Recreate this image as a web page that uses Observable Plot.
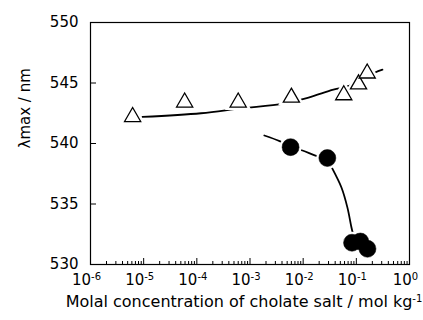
<!DOCTYPE html>
<html><head><meta charset="utf-8">
<script src="https://cdn.jsdelivr.net/npm/d3@7"></script>
<script src="https://cdn.jsdelivr.net/npm/@observablehq/plot@0.6"></script>
<style>body{margin:0;background:#fff}</style>
</head><body><div id="chart"></div>
<script>
// Open triangles
const triX = [6.2e-6, 5.9e-5, 6.0e-4, 6.0e-3, 0.058, 0.11, 0.16];
const triY = [542.2, 543.4, 543.4, 543.8, 544.0, 544.9, 545.8];
// Filled circles
const cirX = [5.8e-3, 0.0285, 0.083, 0.119, 0.162];
const cirY = [539.7, 538.8, 531.8, 531.9, 531.3];
// Fitted curves
const fitTriX = [9.5e-6, 1.2e-4, 6.6e-4, 4.3e-3, 0.0126, 0.037, 0.078, 0.22, 0.31];
const fitTriY = [542.2, 542.5, 542.9, 543.3, 543.8, 544.45, 544.8, 545.85, 546.1];
const fitCirX = [1.86e-3, 3.7e-3, 5.8e-3, 9.7e-3, 0.017, 0.0285, 0.033, 0.0525, 0.068, 0.081, 0.088];
const fitCirY = [540.66, 540.17, 539.7, 539.42, 539.0, 538.7, 538.18, 536.36, 534.7, 533.06, 532.4];
// Axes
const xTickExp = [-6, -5, -4, -3, -2, -1, 0];
const xMinorMult = [2, 3, 4, 5, 6, 7, 8, 9];
const yTicks = [530, 535, 540, 545, 550];
const xTitle = "Molal concentration of cholate salt / mol kg";
const xTitleExp = "-1";
const yTitle = "λmax / nm";

const W = 423, H = 320, mL = 90, mR = 14, mT = 22, mB = 56;
const plotW = W - mL - mR, plotH = H - mT - mB;
const xMajor = xTickExp.map(e => Math.pow(10, e));
const xMinor = xTickExp.slice(0, -1).flatMap(e => xMinorMult.map(k => k * Math.pow(10, e)));
const tri = triX.map((x, i) => ({x, y: triY[i]}));
const cir = cirX.map((x, i) => ({x, y: cirY[i]}));
const fitTri = fitTriX.map((x, i) => ({x, y: fitTriY[i]}));
const fitCir = fitCirX.map((x, i) => ({x, y: fitCirY[i]}));

const font = "DejaVu Sans";
const chart = Plot.plot({
  width: W, height: H,
  marginLeft: mL, marginRight: mR, marginTop: mT, marginBottom: mB,
  style: {fontFamily: font, fontSize: "15px", color: "#000", background: "#fff"},
  x: {type: "log", domain: [1e-6, 1], axis: null},
  y: {domain: [530, 550]},
  marks: [
    Plot.frame({stroke: "#000", strokeWidth: 1.2}),
    Plot.tickX(xMinor, {x: d => d, insetTop: plotH - 3, stroke: "#000"}),
    Plot.tickX(xMajor, {x: d => d, insetTop: plotH - 6, stroke: "#000"}),
    Plot.tickY(yTicks, {y: d => d, insetRight: plotW - 6, stroke: "#000"}),
    Plot.axisY({ticks: yTicks, tickSize: 0, tickPadding: 12, label: null, fontSize: 15}),
    Plot.text(xTickExp, {x: e => Math.pow(10, e), text: () => "10", frameAnchor: "bottom", dy: 20, dx: -4, fontSize: 15}),
    Plot.text([xTitle], {frameAnchor: "bottom", dy: 42, dx: -6, fontSize: 16}),
    Plot.text([yTitle], {frameAnchor: "left", rotate: -90, dx: -65, dy: 5, fontSize: 15}),
    Plot.line(fitTri, {x: "x", y: "y", curve: "catmull-rom", stroke: "#000", strokeWidth: 1.8}),
    Plot.line(fitCir, {x: "x", y: "y", curve: "catmull-rom", stroke: "#000", strokeWidth: 1.8}),
    Plot.dot(tri, {x: "x", y: "y", symbol: "triangle", r: 6, fill: "#fff", stroke: "#fff", strokeWidth: 6}),
    Plot.dot(cir, {x: "x", y: "y", r: 8.5, fill: "#fff", stroke: "#fff", strokeWidth: 5}),
    Plot.dot(tri, {x: "x", y: "y", symbol: "triangle", r: 6, fill: "#fff", stroke: "#000", strokeWidth: 1.3}),
    Plot.dot(cir, {x: "x", y: "y", r: 8.5, fill: "#000", stroke: "#000", strokeWidth: 0.5})
  ]
});
document.getElementById("chart").appendChild(chart);
const svg = d3.select(chart);
const textGroups = svg.selectAll('g[aria-label="text"]').nodes();
d3.select(textGroups[0]).selectAll("text").each(function(d, i) {
  d3.select(this).append("tspan").attr("dy", "-0.45em").attr("font-size", 10).text(String(xTickExp[i]));
});
d3.select(textGroups[1]).selectAll("text").each(function() {
  d3.select(this).append("tspan").attr("dy", "-0.45em").attr("font-size", 10).text(xTitleExp);
});
</script></body></html>
